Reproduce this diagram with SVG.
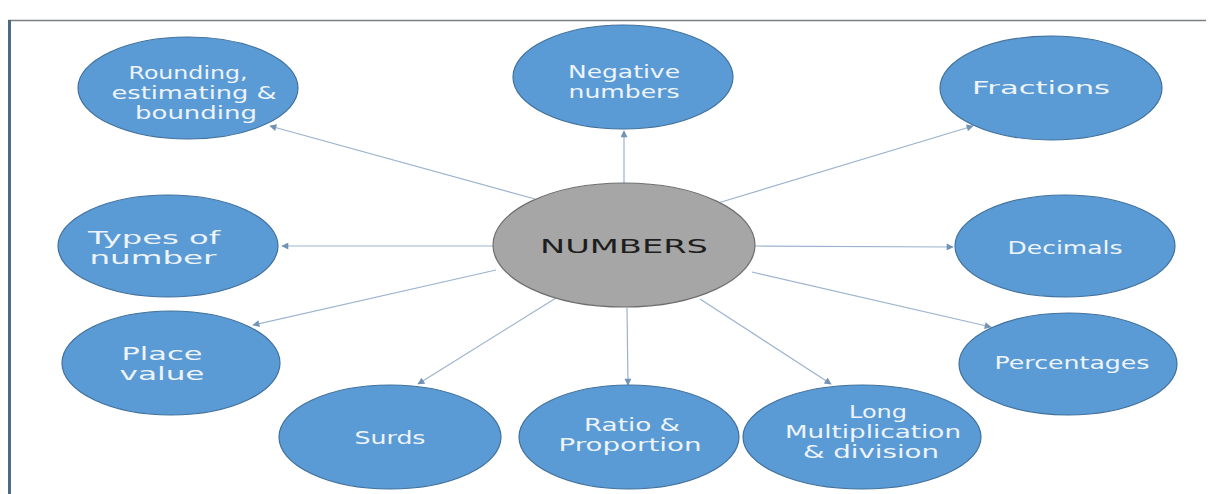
<svg xmlns="http://www.w3.org/2000/svg" width="1210" height="494" viewBox="0 0 1210 494">
<defs>
<marker id="arr" viewBox="0 0 10 10" refX="9" refY="5" markerWidth="9" markerHeight="7" markerUnits="userSpaceOnUse" orient="auto">
<path d="M0,0 L10,5 L0,10 z" fill="#7393b5"/>
</marker>
<style>
.topic{fill:#5b9bd5;stroke:#41719c;stroke-width:1.2}
.hub{fill:#a6a6a6;stroke:#6f6f6f;stroke-width:1.2}
.lbl{font-family:"DejaVu Sans","Verdana",sans-serif;font-size:17px;fill:#eef4fb;text-anchor:middle}
.hubl{font-family:"DejaVu Sans","Verdana",sans-serif;font-size:19px;fill:#1e1e1e;text-anchor:middle}
.con{stroke:#9bb3ce;stroke-width:1.2;fill:none;marker-end:url(#arr)}
</style>
</defs>
<rect x="0" y="0" width="1210" height="494" fill="#ffffff"/>
<line x1="8" y1="20.5" x2="1206" y2="20.5" stroke="#7a7f86" stroke-width="1.5"/>
<line x1="9.5" y1="20" x2="9.5" y2="494" stroke="#4e6a80" stroke-width="3"/>

<g id="connectors">
<line class="con" x1="535" y1="199" x2="270" y2="126"/>
<line class="con" x1="624" y1="183" x2="624" y2="131"/>
<line class="con" x1="718" y1="203" x2="973" y2="126"/>
<line class="con" x1="494" y1="246" x2="282" y2="246"/>
<line class="con" x1="755" y1="246" x2="953" y2="247"/>
<line class="con" x1="496" y1="270" x2="253" y2="325"/>
<line class="con" x1="752" y1="272" x2="991" y2="327"/>
<line class="con" x1="556" y1="298" x2="418" y2="384"/>
<line class="con" x1="627" y1="308" x2="628" y2="385"/>
<line class="con" x1="700" y1="299" x2="831" y2="384"/>
</g>

<g id="hub">
<ellipse class="hub" cx="624" cy="245" rx="131" ry="62"/>
<text class="hubl" x="624" y="253" textLength="168" lengthAdjust="spacingAndGlyphs">NUMBERS</text>
</g>

<g id="rounding">
<ellipse class="topic" cx="188" cy="88" rx="110" ry="51"/>
<text class="lbl" x="188" y="79" textLength="119" lengthAdjust="spacingAndGlyphs">Rounding,</text>
<text class="lbl" x="194" y="99" textLength="165" lengthAdjust="spacingAndGlyphs">estimating &amp;</text>
<text class="lbl" x="196" y="119" textLength="122" lengthAdjust="spacingAndGlyphs">bounding</text>
</g>

<g id="negative">
<ellipse class="topic" cx="623" cy="77" rx="110" ry="52"/>
<text class="lbl" x="624" y="78" textLength="112" lengthAdjust="spacingAndGlyphs">Negative</text>
<text class="lbl" x="624" y="98" textLength="111" lengthAdjust="spacingAndGlyphs">numbers</text>
</g>

<g id="fractions">
<ellipse class="topic" cx="1051" cy="88" rx="111" ry="52"/>
<text class="lbl" x="1041" y="94" textLength="138" lengthAdjust="spacingAndGlyphs">Fractions</text>
</g>

<g id="types">
<ellipse class="topic" cx="168" cy="246" rx="110" ry="51"/>
<text class="lbl" x="154" y="244" textLength="132" lengthAdjust="spacingAndGlyphs">Types of</text>
<text class="lbl" x="153" y="264" textLength="127" lengthAdjust="spacingAndGlyphs">number</text>
</g>

<g id="decimals">
<ellipse class="topic" cx="1065" cy="246" rx="110" ry="51"/>
<text class="lbl" x="1065" y="254" textLength="115" lengthAdjust="spacingAndGlyphs">Decimals</text>
</g>

<g id="place">
<ellipse class="topic" cx="171" cy="363" rx="109" ry="52"/>
<text class="lbl" x="162" y="360" textLength="81" lengthAdjust="spacingAndGlyphs">Place</text>
<text class="lbl" x="162" y="380" textLength="85" lengthAdjust="spacingAndGlyphs">value</text>
</g>

<g id="percentages">
<ellipse class="topic" cx="1068" cy="364" rx="109" ry="51"/>
<text class="lbl" x="1072" y="369" textLength="155" lengthAdjust="spacingAndGlyphs">Percentages</text>
</g>

<g id="surds">
<ellipse class="topic" cx="390" cy="437" rx="111" ry="52"/>
<text class="lbl" x="390" y="444" textLength="71" lengthAdjust="spacingAndGlyphs">Surds</text>
</g>

<g id="ratio">
<ellipse class="topic" cx="629" cy="437" rx="110" ry="52"/>
<text class="lbl" x="632" y="431" textLength="96" lengthAdjust="spacingAndGlyphs">Ratio &amp;</text>
<text class="lbl" x="630" y="451" textLength="143" lengthAdjust="spacingAndGlyphs">Proportion</text>
</g>

<g id="longmult">
<ellipse class="topic" cx="862" cy="437" rx="119" ry="52"/>
<text class="lbl" x="878" y="418" textLength="58" lengthAdjust="spacingAndGlyphs">Long</text>
<text class="lbl" x="873" y="438" textLength="176" lengthAdjust="spacingAndGlyphs">Multiplication</text>
<text class="lbl" x="871" y="458" textLength="136" lengthAdjust="spacingAndGlyphs">&amp; division</text>
</g>
</svg>
